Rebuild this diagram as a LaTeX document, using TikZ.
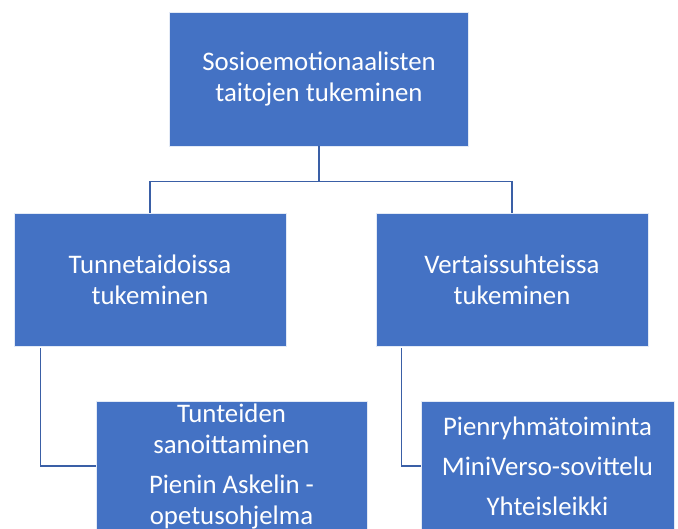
\documentclass[tikz,border=0pt]{standalone}
\usepackage{fontspec}
\setmainfont{Carlito}
\usetikzlibrary{calc}
\definecolor{boxblue}{HTML}{4472C4}
\definecolor{linkblue}{HTML}{3A5FA6}
\tikzset{
  x=1pt, y=1pt,
  boxnode/.style={rectangle, fill=boxblue, draw=white!85!boxblue, line width=0.8pt,
    text=white, align=center, inner sep=0pt,
    font=\fontsize{26.8}{31}\selectfont},
  link/.style={draw=linkblue, line width=1.6pt}
}
\begin{document}
\begin{tikzpicture}
  \useasboundingbox (0,0) rectangle (678,529);
  \clip (0,0) rectangle (678,529);
  % top level
  \node[boxnode, minimum width=299, minimum height=134] (top) at (319,450)
    {Sosioemotionaalisten\\taitojen tukeminen};
  % second level
  \node[boxnode, minimum width=272, minimum height=133] (left) at (150,249.5)
    {Tunnetaidoissa\\tukeminen};
  \node[boxnode, minimum width=272, minimum height=133] (right) at (512,249.5)
    {Vertaissuhteissa\\tukeminen};
  % third level
  \node[boxnode, minimum width=271, minimum height=130] (bl) at (231.5,63)
    {Tunteiden\\sanoittaminen\\[9pt]Pienin Askelin -\\opetusohjelma};
  \node[boxnode, minimum width=253, minimum height=130] (br) at (547.5,63)
    {Pienryhmätoiminta\\[9pt]MiniVerso-sovittelu\\[9pt]Yhteisleikki};
  % connectors
  \draw[link] (top.south) -- ++(0,-35) coordinate (hub);
  \draw[link] (hub) -| (left.north);
  \draw[link] (hub) -| (right.north);
  \draw[link] ($(left.south west)+(27,-2)$) |- (bl.west);
  \draw[link] ($(right.south west)+(26,-2)$) |- (br.west);
\end{tikzpicture}
\end{document}
